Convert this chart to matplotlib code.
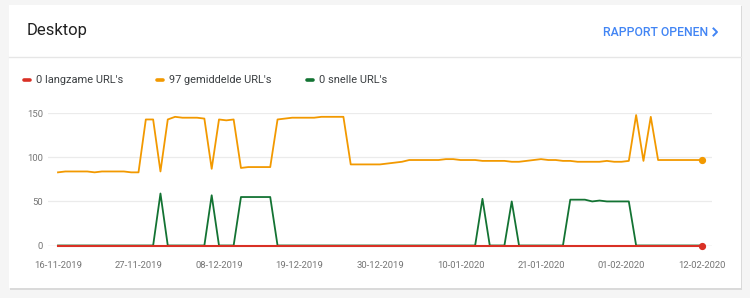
import numpy as np
import pandas as pd
import matplotlib
matplotlib.use("Agg")
import matplotlib.pyplot as plt
import matplotlib.dates as mdates
from matplotlib.patches import Rectangle
from matplotlib.lines import Line2D

W, H = 750, 298

# data: one point per day
dates = pd.date_range("2019-11-16", "2020-02-12", freq="D")

slow = [0] * 89

average = [83, 84, 84, 84, 84, 83, 84, 84, 84, 84, 83, 83,
           143, 143, 84, 143, 146, 145, 145, 145, 144, 87, 143, 142, 143,
           88, 89, 89, 89, 89, 143, 144, 145, 145, 145, 145, 146, 146, 146, 146,
           92, 92, 92, 92, 92, 93, 94, 95, 97, 97, 97, 97, 97, 98, 98, 97,
           97, 97, 96, 96, 96, 96, 95, 95, 96, 97, 98, 97, 97, 96, 96, 95,
           95, 95, 95, 96, 95, 95, 96, 148, 96, 146, 97, 97, 97, 97, 97, 97, 97]

fast = [0] * 14 + [59] + [0] * 6 + [57] + [0] * 3 + [55, 55, 55, 55, 55] + [0] * 28 + \
       [53] + [0] * 3 + [50] + [0] * 7 + [52, 52, 52, 50, 51, 50, 50, 50, 50] + [0] * 10

tick_dates = ["2019-11-16", "2019-11-27", "2019-12-08", "2019-12-19", "2019-12-30",
              "2020-01-10", "2020-01-21", "2020-02-01", "2020-02-12"]
tick_labels = ["16-11-2019", "27-11-2019", "08-12-2019", "19-12-2019", "30-12-2019",
               "10-01-2020", "21-01-2020", "01-02-2020", "12-02-2020"]
y_ticks = [0, 50, 100, 150]

legend_labels = ["0 langzame URL's", "97 gemiddelde URL's", "0 snelle URL's"]

RED = "#d93025"
ORANGE = "#f29900"
GREEN = "#137333"
BLUE = "#4285f4"

plt.rcParams['font.family'] = ['Roboto', 'DejaVu Sans']


def fx(x):
    return x / W


def fy(y):
    return 1 - y / H


fig = plt.figure(figsize=(W / 100, H / 100), dpi=100)
fig.patch.set_facecolor("#f5f5f5")

# card with a soft shadow
fig.patches.append(Rectangle((fx(10), fy(289.5)), fx(742) - fx(10), fy(6) - fy(289.5),
                             transform=fig.transFigure, facecolor="#dadada", edgecolor="none", zorder=0))
fig.patches.append(Rectangle((fx(9), fy(288)), fx(741) - fx(9), fy(5) - fy(288),
                             transform=fig.transFigure, facecolor="white", edgecolor="none", zorder=1))
fig.lines.append(Line2D([fx(9), fx(741)], [fy(57), fy(57)], transform=fig.transFigure,
                        color="#e6e6e6", lw=1, zorder=2))

fig.text(fx(27), fy(31), "Desktop", fontsize=12, color="#212121", va="center", ha="left")
fig.text(fx(708), fy(32), "RAPPORT OPENEN", fontsize=8.8, color=BLUE, va="center",
         ha="right", fontweight="medium")
fig.lines.append(Line2D([fx(713.5), fx(717), fx(713.5)], [fy(28.5), fy(32), fy(35.5)],
                        transform=fig.transFigure, color=BLUE, lw=1.4, zorder=3))

# legend
legend_x = [22, 155, 305]
for lx, lab, col in zip(legend_x, legend_labels, [RED, ORANGE, GREEN]):
    fig.lines.append(Line2D([fx(lx + 1.5), fx(lx + 7.5)], [fy(80), fy(80)], transform=fig.transFigure,
                            color=col, lw=2.6, solid_capstyle="round", zorder=3))
    fig.text(fx(lx + 14), fy(80), lab, fontsize=7.9, color="#3c4043", va="center", ha="left")

# plot area: day 0 at x=58, day 88 at x=702; value 0 at y=245.5, 150 at y=113.3
px_per_day = (702 - 58) / 88
left_px, right_px = 48, 712
ax = fig.add_axes([fx(left_px), fy(245.5), fx(right_px) - fx(left_px), fy(113.3) - fy(245.5)])
ax.set_facecolor("none")
ax.set_zorder(5)

x0 = mdates.date2num(dates[0])
ax.set_xlim(x0 - (58 - left_px) / px_per_day, x0 + 88 + (right_px - 702) / px_per_day)
ax.set_ylim(0, 150)

for v in y_ticks[1:]:
    ax.axhline(v, color="#ebebeb", lw=0.9, zorder=1)
ax.axhline(0, color="#bdbdbd", lw=0.9, zorder=1)

ax.plot(dates, average, color=ORANGE, lw=1.3, zorder=3, clip_on=False)
ax.plot(dates, fast, color=GREEN, lw=1.3, zorder=3, clip_on=False)
ax.plot(dates, slow, color=RED, lw=1.5, zorder=4, clip_on=False)
ax.plot(dates[-1:], average[-1:], "o", color=ORANGE, ms=4.2, zorder=5, clip_on=False)
ax.plot(dates[-1:], slow[-1:], "o", color=RED, ms=4.2, zorder=5, clip_on=False)

ax.set_xticks(pd.to_datetime(tick_dates))
ax.set_xticklabels(tick_labels)
ax.set_yticks(y_ticks)
ax.tick_params(axis="both", length=0, labelsize=6.8, colors="#757575")
ax.tick_params(axis="x", pad=11)
ax.tick_params(axis="y", pad=3.5)
for s in ax.spines.values():
    s.set_visible(False)

fig.savefig("out.png", dpi=100, facecolor=fig.get_facecolor())
